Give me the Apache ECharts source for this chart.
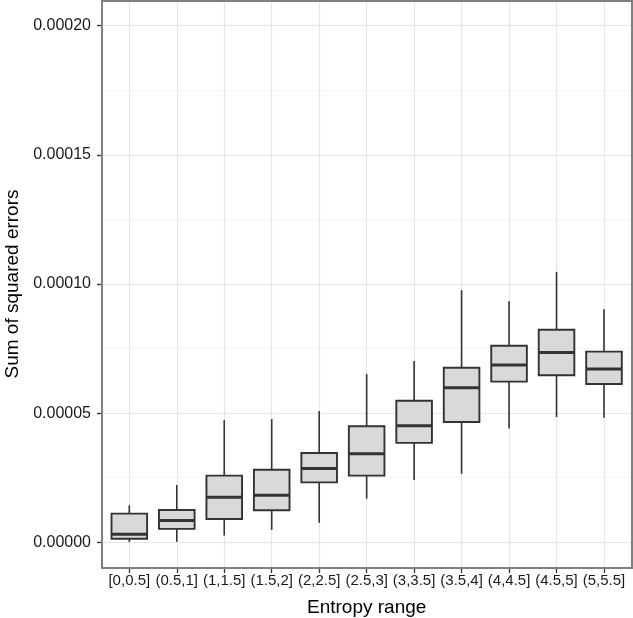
<!DOCTYPE html>
<html>
<head>
<meta charset="utf-8">
<script src="https://cdn.jsdelivr.net/npm/echarts@6/dist/echarts.min.js"></script>
<style>
  html, body { margin: 0; padding: 0; background: #fff; }
  #chart { width: 633px; height: 618px; }
</style>
</head>
<body>
<div id="chart"></div>
<script>
// entropy bins along x
const categories = ["[0,0.5]", "(0.5,1]", "(1,1.5]", "(1.5,2]", "(2,2.5]", "(2.5,3]",
  "(3,3.5]", "(3.5,4]", "(4,4.5]", "(4.5,5]", "(5,5.5]"];

// box statistics
const whiskerLow  = [0.0000001, 0.0000002, 0.0000026, 0.0000048, 0.0000076, 0.0000169,
  0.0000241, 0.0000265, 0.0000441, 0.0000485, 0.0000482];
const lowerQuart  = [0.0000014, 0.0000052, 0.0000090, 0.0000124, 0.0000232, 0.0000258,
  0.0000385, 0.0000466, 0.0000622, 0.0000647, 0.0000613];
const medians     = [0.0000031, 0.0000084, 0.0000174, 0.0000182, 0.0000286, 0.0000343,
  0.0000451, 0.0000598, 0.0000686, 0.0000735, 0.0000671];
const upperQuart  = [0.0000111, 0.0000125, 0.0000258, 0.0000281, 0.0000346, 0.0000449,
  0.0000548, 0.0000676, 0.0000761, 0.0000823, 0.0000738];
const whiskerHigh = [0.0000143, 0.0000222, 0.0000473, 0.0000477, 0.0000508, 0.0000651,
  0.0000702, 0.0000976, 0.0000933, 0.0001047, 0.0000902];

// y axis breaks
const yMin = 0;
const yMax = 0.0002;
const yStep = 0.00005;

const FONT = "Liberation Sans, Arial, Helvetica, sans-serif";
const INK = "#333333";

const chart = echarts.init(document.getElementById("chart"), null, { renderer: "canvas" });

const boxData = categories.map((_, i) => [
  i, whiskerLow[i], lowerQuart[i], medians[i], upperQuart[i], whiskerHigh[i]
]);

// ggplot-style box: whisker line, filled box, fat median, no whisker caps
function renderBox(params, api) {
  const x = api.value(0);
  const lo = api.coord([x, api.value(1)]);
  const q1 = api.coord([x, api.value(2)]);
  const md = api.coord([x, api.value(3)]);
  const q3 = api.coord([x, api.value(4)]);
  const hi = api.coord([x, api.value(5)]);
  const half = api.size([1, 0])[0] * 0.375;
  const cx = lo[0];
  return {
    type: "group",
    children: [
      { type: "line", shape: { x1: cx, y1: hi[1], x2: cx, y2: q3[1] }, style: { stroke: INK, lineWidth: 1.6 } },
      { type: "line", shape: { x1: cx, y1: q1[1], x2: cx, y2: lo[1] }, style: { stroke: INK, lineWidth: 1.6 } },
      {
        type: "rect",
        shape: { x: cx - half, y: q3[1], width: half * 2, height: q1[1] - q3[1] },
        style: { fill: "#d9d9d9", stroke: INK, lineWidth: 1.9 }
      },
      { type: "line", shape: { x1: cx - half, y1: md[1], x2: cx + half, y2: md[1] }, style: { stroke: INK, lineWidth: 3 } }
    ]
  };
}

const fixed = { containLabel: false, outerBoundsMode: "none" };

chart.setOption({
  animation: false,
  backgroundColor: "#ffffff",
  grid: [
    // panel frame
    { ...fixed, left: 102, right: 1, top: 1, bottom: 50, show: true, borderColor: "#7f7f7f", borderWidth: 2, backgroundColor: "transparent", z: 3 },
    // y breaks, full panel width
    { ...fixed, left: 102, right: 1, top: 25.7, bottom: 75.7 },
    // x breaks, full panel height
    { ...fixed, left: 129.3, right: 29, top: 1, bottom: 50 },
    // data
    { ...fixed, left: 129.3, right: 29, top: 25.7, bottom: 75.7 }
  ],
  xAxis: [
    { gridIndex: 0, type: "value", show: false },
    { gridIndex: 1, type: "value", show: false },
    {
      gridIndex: 2,
      type: "category",
      data: categories,
      boundaryGap: false,
      axisLine: { show: false },
      axisTick: { show: true, length: 5, lineStyle: { color: INK, width: 1.3 } },
      axisLabel: { interval: 0, margin: 5, color: "#1a1a1a", fontSize: 15, fontFamily: FONT },
      splitLine: { show: true, lineStyle: { color: "#e6e6e6", width: 1.2 } },
      name: "Entropy range",
      nameLocation: "middle",
      nameGap: 30,
      nameTextStyle: { color: "#000", fontSize: 19, fontFamily: FONT }
    },
    { gridIndex: 3, type: "category", data: categories, boundaryGap: false, show: false }
  ],
  yAxis: [
    { gridIndex: 0, type: "value", show: false },
    {
      gridIndex: 1,
      type: "value",
      min: yMin,
      max: yMax,
      interval: yStep,
      axisLine: { show: false },
      axisTick: { show: true, length: 5, lineStyle: { color: INK, width: 1.3 } },
      axisLabel: {
        margin: 11,
        color: "#1a1a1a",
        fontSize: 16,
        fontFamily: FONT,
        formatter: (v) => v.toFixed(5)
      },
      splitLine: { show: true, lineStyle: { color: "#e6e6e6", width: 1.2 } },
      minorTick: { show: false, splitNumber: 2 },
      minorSplitLine: { show: true, lineStyle: { color: "#f4f4f4", width: 1.2 } },
      name: "Sum of squared errors",
      nameLocation: "middle",
      nameGap: 79,
      nameTextStyle: { color: "#000", fontSize: 19, fontFamily: FONT }
    },
    { gridIndex: 2, type: "value", show: false },
    { gridIndex: 3, type: "value", min: yMin, max: yMax, show: false }
  ],
  series: [
    {
      type: "custom",
      xAxisIndex: 3,
      yAxisIndex: 3,
      data: boxData,
      encode: { x: 0, y: [1, 2, 3, 4, 5] },
      silent: true,
      renderItem: renderBox
    }
  ]
});
</script>
</body>
</html>
